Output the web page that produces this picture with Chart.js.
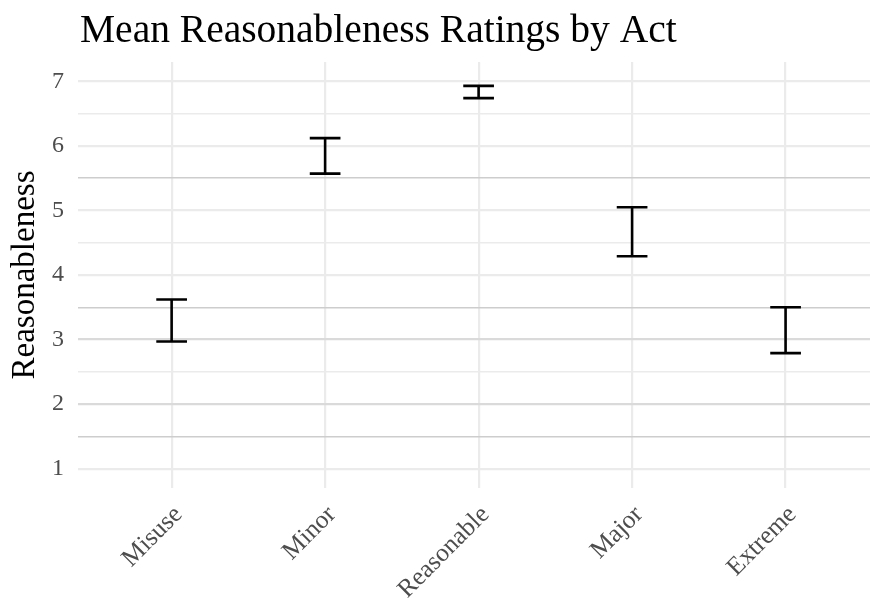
<!DOCTYPE html>
<html>
<head>
<meta charset="utf-8">
<script src="https://cdn.jsdelivr.net/npm/chart.js@4.4.1/dist/chart.umd.min.js"></script>
<style>
  html, body { margin: 0; padding: 0; background: #ffffff; }
  #wrap { width: 870px; height: 601px; }
</style>
</head>
<body>
<div id="wrap"><canvas id="c" width="870" height="601"></canvas></div>
<script>
// Acts and their confidence intervals for mean reasonableness
const acts = ['Misuse', 'Minor', 'Reasonable', 'Major', 'Extreme'];
const lowerCI = [2.97, 5.57, 6.74, 4.29, 2.79];
const upperCI = [3.62, 6.12, 6.93, 5.05, 3.50];
const yTicks = [1, 1.5, 2, 2.5, 3, 3.5, 4, 4.5, 5, 5.5, 6, 6.5, 7];
const shadedGridValues = [5.5, 3.5, 3, 2, 1.5];

const serif = '"Liberation Serif", "DejaVu Serif", serif';
const centers = acts.map((a, i) => ({ x: i + 1, y: (lowerCI[i] + upperCI[i]) / 2 }));

// Draws the error bars (vertical segment + caps) from the CI arrays
const errorBars = {
  id: 'errorBars',
  afterDatasetsDraw(chart) {
    const { ctx, scales: { x, y } } = chart;
    ctx.save();
    ctx.strokeStyle = '#000000';
    ctx.lineWidth = 2.6;
    ctx.lineCap = 'butt';
    acts.forEach((a, i) => {
      const cx = x.getPixelForValue(i + 1);
      const xl = x.getPixelForValue(i + 1 - 0.1);
      const xr = x.getPixelForValue(i + 1 + 0.1);
      const yl = y.getPixelForValue(lowerCI[i]);
      const yu = y.getPixelForValue(upperCI[i]);
      ctx.beginPath();
      ctx.moveTo(cx, yu); ctx.lineTo(cx, yl);
      ctx.moveTo(xl, yu); ctx.lineTo(xr, yu);
      ctx.moveTo(xl, yl); ctx.lineTo(xr, yl);
      ctx.stroke();
    });
    ctx.restore();
  }
};

// Plot title, left-aligned with the panel
const plotTitle = {
  id: 'plotTitle',
  afterDraw(chart) {
    const { ctx, chartArea } = chart;
    ctx.save();
    ctx.fillStyle = '#000000';
    ctx.font = '39.5px ' + serif;
    ctx.textAlign = 'left';
    ctx.textBaseline = 'alphabetic';
    ctx.fillText('Mean Reasonableness Ratings by Act', chartArea.left + 2, 42);
    ctx.restore();
  }
};

new Chart(document.getElementById('c'), {
  type: 'scatter',
  data: {
    datasets: [{
      data: centers,
      pointRadius: 0,
      pointHoverRadius: 0,
      showLine: false
    }]
  },
  options: {
    responsive: false,
    animation: false,
    events: [],
    layout: { padding: { top: 62, right: 0, bottom: 0, left: 0 } },
    plugins: {
      legend: { display: false },
      tooltip: { enabled: false },
      title: { display: false }
    },
    scales: {
      x: {
        type: 'linear',
        min: 0.39,
        max: 5.55,
        afterBuildTicks(scale) { scale.ticks = acts.map((a, i) => ({ value: i + 1 })); },
        afterFit(scale) { scale.height = 113; },
        ticks: {
          autoSkip: false,
          minRotation: 45,
          maxRotation: 45,
          padding: 12,
          labelOffset: 7,
          color: '#4d4d4d',
          font: { family: serif, size: 25.5 },
          callback: (v) => acts[Math.round(v) - 1]
        },
        grid: { color: '#ebebeb', lineWidth: 2.2, drawTicks: false },
        border: { display: false }
      },
      y: {
        type: 'linear',
        min: 0.7,
        max: 7.3,
        afterBuildTicks(scale) { scale.ticks = yTicks.map(v => ({ value: v })); },
        afterFit(scale) { scale.width = 78; },
        ticks: {
          autoSkip: false,
          padding: 14,
          color: '#4d4d4d',
          font: { family: serif, size: 24 },
          callback: (v) => Number.isInteger(v) ? String(v) : ''
        },
        grid: {
          drawTicks: false,
          color: (c) => {
            const v = c.tick.value;
            if (shadedGridValues.includes(v)) return Number.isInteger(v) ? '#dadada' : '#cdcdcd';
            return '#ebebeb';
          },
          lineWidth: (c) => Number.isInteger(c.tick.value) ? 2.2 : 1.4
        },
        border: { display: false },
        title: {
          display: true,
          text: 'Reasonableness',
          color: '#000000',
          font: { family: serif, size: 33 },
          padding: { top: 6, bottom: 0 }
        }
      }
    }
  },
  plugins: [errorBars, plotTitle]
});
</script>
</body>
</html>
